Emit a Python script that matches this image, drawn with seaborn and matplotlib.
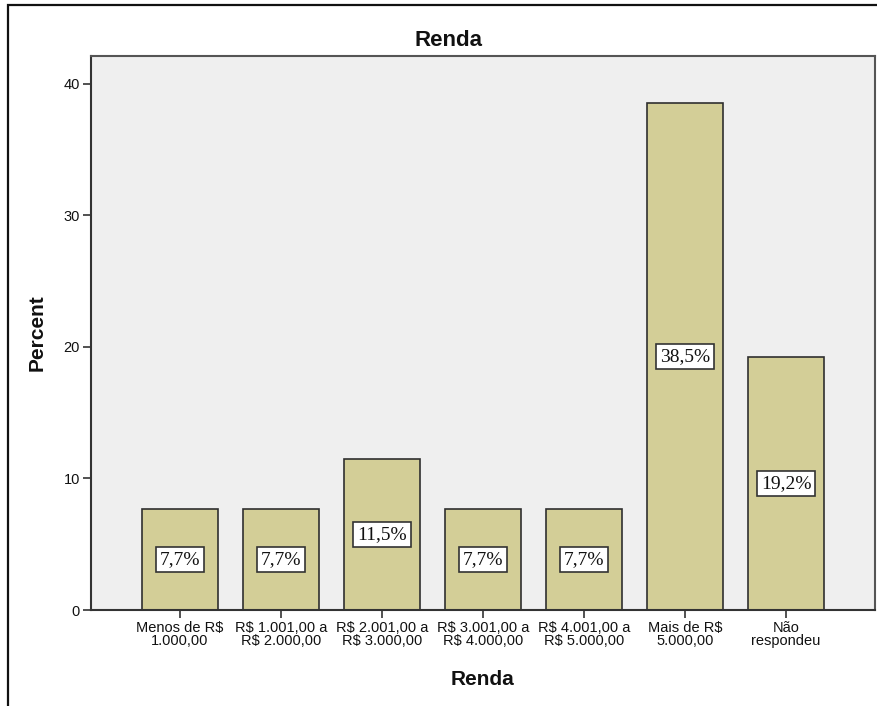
import matplotlib
matplotlib.use("Agg")
import matplotlib.pyplot as plt
import seaborn as sns
import pandas as pd
from matplotlib.patches import Rectangle

# data
categories = ["Menos de R$\n1.000,00", "R$ 1.001,00 a\nR$ 2.000,00", "R$ 2.001,00 a\nR$ 3.000,00",
              "R$ 3.001,00 a\nR$ 4.000,00", "R$ 4.001,00 a\nR$ 5.000,00", "Mais de R$\n5.000,00",
              "Não\nrespondeu"]
percents = [7.7, 7.7, 11.5, 7.7, 7.7, 38.5, 19.2]
value_labels = ["7,7%", "7,7%", "11,5%", "7,7%", "7,7%", "38,5%", "19,2%"]
y_ticks = [0, 10, 20, 30, 40]

sns.set_theme(style="white")
plt.rcParams["font.family"] = ["Liberation Sans", "DejaVu Sans"]

df = pd.DataFrame({"Renda": categories, "Percent": percents})

fig = plt.figure(figsize=(8.77, 7.06), dpi=100)
ax = fig.add_axes([91 / 877, 96 / 706, 784 / 877, 554 / 706])
ax.set_facecolor("#efefef")

sns.barplot(data=df, x="Renda", y="Percent", color="#d3ce97", edgecolor="#2f2f2f",
            linewidth=1.2, width=0.75, saturation=1, ax=ax)

for i, (v, lab) in enumerate(zip(percents, value_labels)):
    ax.text(i, v / 2, lab, ha="center", va="center", fontsize=14,
            family=["Liberation Serif", "DejaVu Serif"], color="#111111",
            bbox=dict(boxstyle="square,pad=0.2", facecolor="white", edgecolor="#333333", linewidth=1.2))

ax.set_xlim(-0.88, 6.88)
ax.set_ylim(0, 42.1)
ax.set_yticks(y_ticks)
ax.set_yticklabels([str(t) for t in y_ticks])
ax.tick_params(axis="both", which="both", direction="out", length=6, width=1.2,
               color="#333333", labelsize=10.5, labelcolor="#111111", pad=2, left=True, bottom=True)
for lbl in ax.get_xticklabels():
    lbl.set_linespacing(0.9)

for side, sp in ax.spines.items():
    sp.set_visible(True)
    sp.set_color("#555555")
    sp.set_linewidth(1.5)
ax.spines["left"].set_color("#333333")
ax.spines["bottom"].set_color("#333333")

ax.set_xlabel("Renda", fontsize=15, fontweight="bold", color="#111111")
ax.set_ylabel("Percent", fontsize=15, fontweight="bold", color="#111111")
ax.xaxis.set_label_coords(0.5, -0.108)
ax.yaxis.set_label_coords(-0.057, 0.5)

fig.text(448 / 877, 1 - 40 / 706, "Renda", ha="center", va="center",
         fontsize=16, fontweight="bold", color="#111111")

# outer chart frame
fig.add_artist(Rectangle((8 / 877, -0.1), 1.2, 1.1 - 5 / 706, transform=fig.transFigure,
                         fill=False, edgecolor="#111111", linewidth=1.6))

fig.savefig("out.png", dpi=100, facecolor="white")
